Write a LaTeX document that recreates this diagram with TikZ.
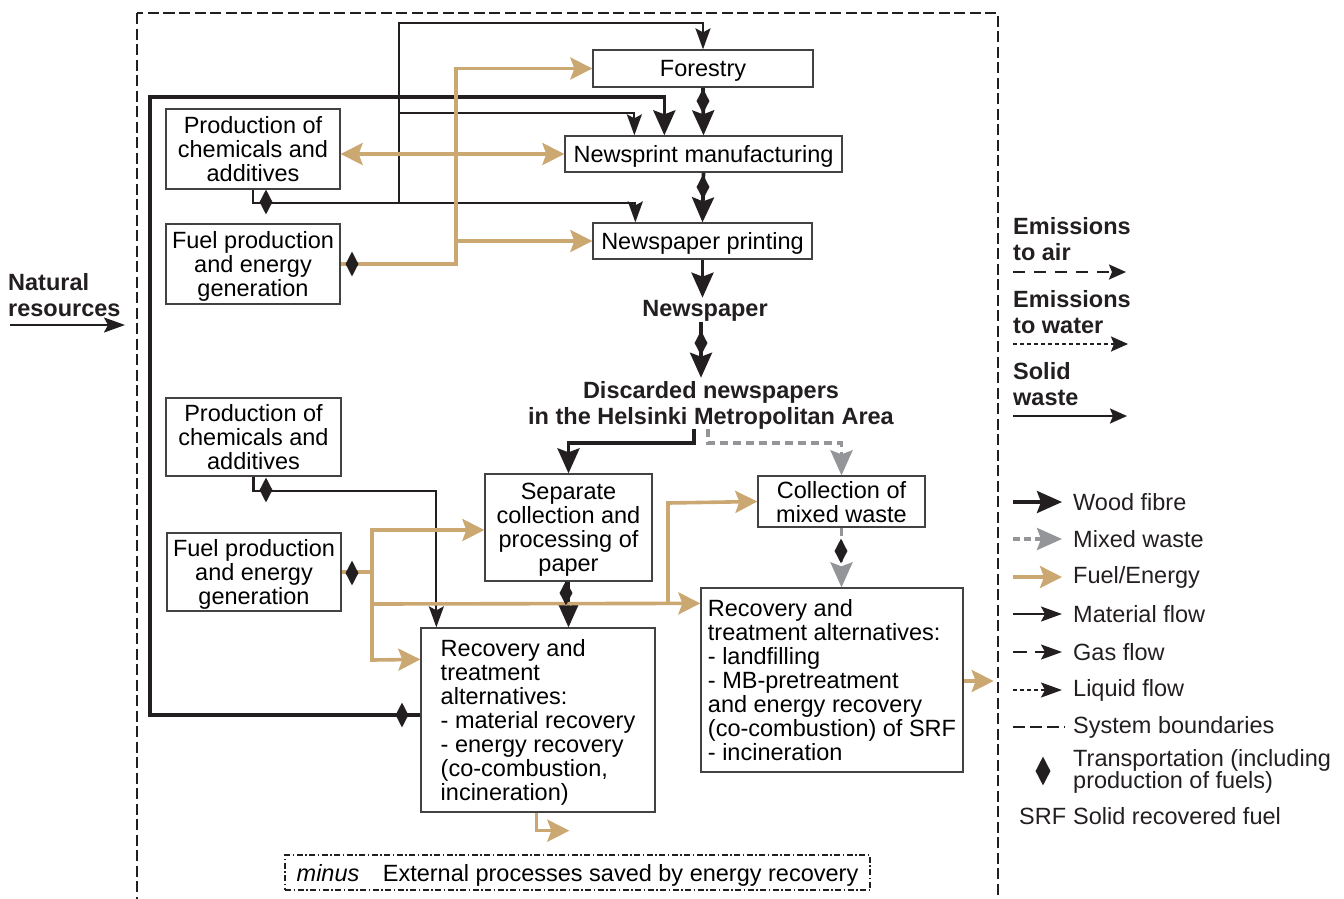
\documentclass[tikz,border=0pt]{standalone}
\usepackage{fontspec}
\setmainfont{Liberation Sans}
\usetikzlibrary{arrows.meta,shapes.geometric,calc}
\definecolor{ink}{HTML}{231F20}
\definecolor{tanfuel}{HTML}{CBA771}
\definecolor{waste}{HTML}{939598}

\begin{document}
\begin{tikzpicture}[x=1pt,y=-1pt,
  font=\fontsize{23.5}{24}\selectfont,
  proc/.style={draw=ink!85, line width=1.3pt, align=center, inner sep=0pt, text depth=0pt},
  lbl/.style={font=\fontsize{23.5}{26}\selectfont\bfseries, align=left, inner sep=0pt, text=ink},
  fibre/.style={draw=ink, line width=3.6pt, -{Stealth[length=25pt,width=22pt,inset=4pt]}},
  matflow/.style={draw=ink, line width=2.1pt, -{Stealth[length=21pt,width=15pt,inset=4pt]}},
  fuel/.style={draw=tanfuel, line width=3.6pt, -{Stealth[length=22pt,width=22pt,inset=4pt]}},
  mixw/.style={draw=waste, line width=3.6pt, dash pattern=on 8pt off 5pt, -{Stealth[length=25pt,width=22pt,inset=4pt]}},
  emis/.style={draw=ink, line width=2.2pt, -{Stealth[length=17pt,width=15pt,inset=3pt]}},
  transp/.style={shape=diamond, fill=ink, inner sep=0pt, aspect=0.5, minimum width=13pt, minimum height=25pt},
  leg/.style={anchor=west, inner sep=0pt, text=ink},
]
\useasboundingbox (0,0) rectangle (1344,898);
\clip (0,0) rectangle (1344,898);

% system boundary
\draw[ink, line width=2.5pt, dash pattern=on 11pt off 4.5pt] (137,13) rectangle (998,930);

% process boxes
\node[proc, minimum width=220pt, minimum height=37pt] (forestry) at (703,68.5) {Forestry};
\node[proc, minimum width=277pt, minimum height=36pt] (newsprint) at (703.5,154) {Newsprint manufacturing};
\node[proc, minimum width=219pt, minimum height=36pt] (printing) at (702.5,241) {Newspaper printing};
\node[proc, minimum width=174pt, minimum height=80pt] (chemA) at (253,149) {Production of\\chemicals and\\additives};
\node[proc, minimum width=174pt, minimum height=80pt] (fuelA) at (253,264) {Fuel production\\and energy\\generation};
\node[proc, minimum width=175pt, minimum height=78pt] (chemB) at (253.5,437) {Production of\\chemicals and\\additives};
\node[proc, minimum width=174pt, minimum height=78pt] (fuelB) at (254,572) {Fuel production\\and energy\\generation};
\node[proc, minimum width=167pt, minimum height=107pt] (separate) at (568.5,527.5) {Separate\\collection and\\processing of\\paper};
\node[proc, minimum width=167pt, minimum height=51pt] (collect) at (841.5,501.5) {Collection of\\mixed waste};
\node[proc, align=left, minimum width=234pt, minimum height=184pt] (recL) at (538,720)
  {Recovery and\\treatment\\alternatives:\\- material recovery\\- energy recovery\\(co-combustion,\\incineration)};
\node[proc, align=left, minimum width=262pt, minimum height=184pt] (recR) at (832,680)
  {Recovery and\\treatment alternatives:\\- landfilling\\- MB-pretreatment\\and energy recovery\\(co-combustion) of SRF\\- incineration};
\node[draw=ink, line width=1.3pt, dash pattern=on 6pt off 2.5pt on 1.5pt off 2.5pt,
  minimum width=585pt, minimum height=35pt, inner sep=0pt, text depth=0pt] (minus) at (577.5,872.5)
  {\textit{minus}\quad External processes saved by energy recovery};

% bold labels
\node[lbl, align=center] (newspaper) at (705,311) {Newspaper};
\node[lbl, align=center] (discard) at (711,405) {Discarded newspapers\\in the Helsinki Metropolitan Area};
\node[lbl, anchor=west] (natres) at (8,295) {Natural\\resources};

% wood fibre
\draw[fibre] (forestry.south) -- (newsprint.north);
\draw[fibre] (newsprint.south) -- (printing.north);
\draw[fibre] (printing.south) -- ++(0,38) coordinate (npTop);
\draw[fibre] (newspaper.south) ++(-4,0) -- ++(0,56) coordinate (dcTop);
\draw[fibre] ($(discard.south)+(-17,0)$) -- ++(0,14) -| (separate.north);
\draw[fibre] (separate.south) -- (separate.south |- recL.north);
\draw[fibre] ($(recL.west)+(0,-5)$) -- (150,715) -- (150,97) -| ($(newsprint.north west)+(100,0)$);

% mixed waste
\draw[mixw] ($(discard.south)+(-3,0)$) -- ++(0,14) -| (collect.north);
\draw[mixw] (collect.south) -- (collect.south |- recR.north);

% material flows
\coordinate (mA) at (399,202);
\draw[matflow] (chemA.south) -- ++(0,13) -| ($(printing.north west)+(43,0)$);
\draw[matflow] (mA) -- (399,23) -| (forestry.north);
\draw[matflow] (399,113) -| ($(newsprint.north west)+(70,0)$);
\draw[matflow] (chemB.south) -- ++(0,14) -| ($(recL.north west)+(16,0)$);
\coordinate (natA) at (10,325);
\draw[matflow] (natA) -- (125,325) coordinate (natB);

% fuel / energy
\coordinate (fA) at (456,264);
\draw[fuel] (fuelA.east) -- (fA) |- (forestry.west);
\draw[fuel] (fA |- printing.west) -- (printing.west);
\draw[fuel, {Stealth[length=22pt,width=22pt,inset=4pt]}-{Stealth[length=22pt,width=22pt,inset=4pt]}]
  (chemA.east |- newsprint.west) -- (newsprint.west);
\coordinate (fB) at (372,572);
\draw[tanfuel, line width=3.6pt] (fuelB.east) -- (fB);
\draw[fuel] (fB) -- (372,530) -- ($(separate.west)+(0,2.5)$);
\draw[fuel] (fB) -- (372,660) -- ($(recL.north west)+(0,32)$);
\draw[fuel] (372,604) -- ($(recR.north west)+(0,16)$);
\draw[fuel] (668,604) -- (668,503) -- (collect.west);
\draw[fuel] ($(recR.east)+(0,1)$) -- ++(30,0) coordinate (outR);
\draw[fuel] ($(recL.south west)+(116,0)$) -- ++(0,18) -- ++(33,0) coordinate (outL);

% transportation marks
\node[transp] (d1) at (703,101) {};
\node[transp] (d2) at (703,187) {};
\node[transp] (d3) at (701,343) {};
\node[transp] (d4) at (266,202) {};
\node[transp] (d5) at (352,264) {};
\node[transp] (d6) at (266,490) {};
\node[transp] (d7) at (352,573) {};
\node[transp] (d8) at (566,593) {};
\node[transp] (d9) at (841,551) {};
\node[transp] (d10) at (402,715) {};

% emissions legend
\node[lbl, anchor=west] (emA) at (1013,239) {Emissions\\to air};
\node[lbl, anchor=west] (emW) at (1013,312) {Emissions\\to water};
\node[lbl, anchor=west] (emS) at (1013,384) {Solid\\waste};
\coordinate (eA0) at (1013,272); \coordinate (eA1) at (1126,272);
\coordinate (eW0) at (1013,344); \coordinate (eW1) at (1128,344);
\coordinate (eS0) at (1013,416); \coordinate (eS1) at (1127,416);
\draw[emis, dash pattern=on 12pt off 9pt] (eA0) -- (eA1);
\draw[emis, dash pattern=on 4pt off 3pt] (eW0) -- (eW1);
\draw[emis] (eS0) -- (eS1);

% flow legend
\node[leg] (lgA) at (1073,502) {Wood fibre};
\node[leg] (lgB) at (1073,539) {Mixed waste};
\node[leg] (lgC) at (1073,577) {Fuel/Energy};
\node[leg] (lgD) at (1073,614) {Material flow};
\node[leg] (lgE) at (1073,652) {Gas flow};
\node[leg] (lgF) at (1073,690) {Liquid flow};
\node[leg] (lgG) at (1073,727) {System boundaries};
\node[leg, font=\fontsize{23.5}{22}\selectfont, align=left] (lgH) at (1073,771) {Transportation (including\\production of fuels)};
\node[leg] (lgI) at (1073,816) {Solid recovered fuel};
\node[leg] (srf) at (1019,816) {SRF};
\node[transp, minimum width=15pt, minimum height=29pt] (lgDia) at (1043,771) {};
\coordinate (lA) at (1013,502); \coordinate (lB) at (1013,539); \coordinate (lC) at (1013,577);
\coordinate (lD) at (1013,614); \coordinate (lE) at (1013,652); \coordinate (lF) at (1013,690);
\coordinate (lG) at (1013,727);
\draw[fibre, shorten >=11pt] (lA) -- (lgA.west);
\draw[mixw, dash pattern=on 7pt off 4pt, shorten >=11pt] (lB) -- (lgB.west);
\draw[fuel, shorten >=11pt] (lC) -- (lgC.west);
\draw[matflow, shorten >=11pt] (lD) -- (lgD.west);
\draw[matflow, dash pattern=on 14pt off 8pt, shorten >=11pt] (lE) -- (lgE.west);
\draw[matflow, dash pattern=on 4pt off 3pt, shorten >=11pt] (lF) -- (lgF.west);
\draw[ink, line width=2.2pt, dash pattern=on 12pt off 5pt, shorten >=8pt] (lG) -- (lgG.west);
\end{tikzpicture}
\end{document}
